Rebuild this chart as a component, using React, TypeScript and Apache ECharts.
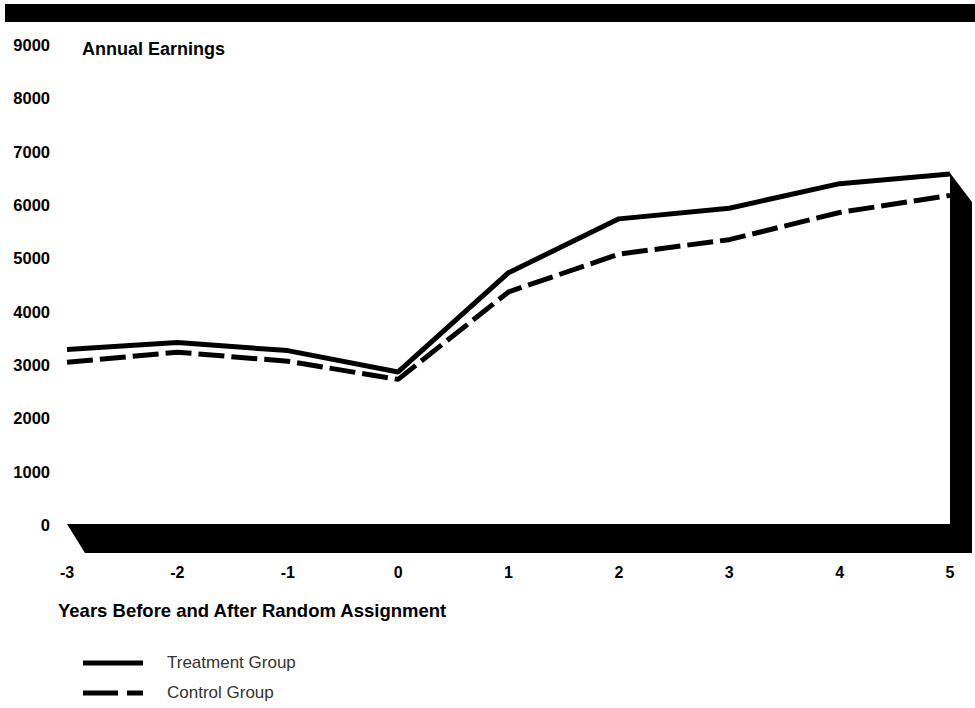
import React, { useEffect, useRef } from "react";
import * as echarts from "echarts";

const years = ["-3", "-2", "-1", "0", "1", "2", "3", "4", "5"];
const treatment = [3290, 3420, 3270, 2870, 4730, 5740, 5940, 6400, 6580];
const control = [3050, 3240, 3070, 2730, 4370, 5080, 5350, 5860, 6180];
const yTicks = [0, 1000, 2000, 3000, 4000, 5000, 6000, 7000, 8000, 9000];

const FONT = "'Liberation Sans', Arial, Helvetica, sans-serif";

export default function App() {
  const ref = useRef<HTMLDivElement>(null);
  useEffect(() => {
    if (!ref.current) return;
    const chart = echarts.init(ref.current, undefined, { renderer: "svg" });
    chart.setOption({
      animation: false,
      backgroundColor: "#fff",
      grid: { left: 67, right: 25, top: 45, height: 480 },
      xAxis: {
        type: "category",
        data: years,
        boundaryGap: false,
        axisLine: { show: false },
        axisTick: { show: false },
        axisLabel: {
          margin: 39,
          color: "#000",
          fontWeight: "bold",
          fontSize: 16,
          fontFamily: FONT,
        },
      },
      yAxis: {
        type: "value",
        min: yTicks[0],
        max: yTicks[yTicks.length - 1],
        interval: 1000,
        axisLine: { show: false },
        axisTick: { show: false },
        splitLine: { show: false },
        axisLabel: {
          margin: 17,
          color: "#000",
          fontWeight: "bold",
          fontSize: 16.5,
          fontFamily: FONT,
          formatter: (v: number) => String(v),
        },
      },
      title: {
        text: "Annual Earnings",
        left: 77,
        top: 35,
        textStyle: { fontSize: 18, fontWeight: "bold", color: "#000", fontFamily: FONT },
      },
      graphic: [
        { type: "rect", z: 1, shape: { x: 5, y: 4, width: 975, height: 18 }, style: { fill: "#000" } },
        {
          type: "polygon",
          z: 1,
          shape: { points: [[67, 524], [950, 524], [950, 173], [972, 202], [972, 553], [85, 553]] },
          style: { fill: "#000" },
        },
        {
          type: "text",
          left: 58,
          top: 601,
          style: { text: "Years Before and After Random Assignment", font: `bold 18.5px ${FONT}`, fill: "#000" },
        },
        { type: "rect", shape: { x: 83, y: 660.5, width: 60, height: 5 }, style: { fill: "#000" } },
        { type: "rect", shape: { x: 83, y: 690.5, width: 35, height: 5 }, style: { fill: "#000" } },
        { type: "rect", shape: { x: 127, y: 690.5, width: 16, height: 5 }, style: { fill: "#000" } },
        {
          type: "text",
          left: 167,
          top: 654,
          style: { text: "Treatment Group", font: `17px ${FONT}`, fill: "#333" },
        },
        {
          type: "text",
          left: 167,
          top: 684,
          style: { text: "Control Group", font: `17px ${FONT}`, fill: "#333" },
        },
      ],
      series: [
        {
          name: "Treatment Group",
          type: "line",
          data: treatment,
          symbol: "none",
          z: 3,
          lineStyle: { color: "#000", width: 5, type: "solid" },
        },
        {
          name: "Control Group",
          type: "line",
          data: control,
          symbol: "none",
          z: 3,
          lineStyle: { color: "#000", width: 5, type: [26, 7] },
        },
      ],
    });
    return () => chart.dispose();
  }, []);
  return <div ref={ref} style={{ position: "fixed", left: 0, top: 0, width: 975, height: 708 }} />;
}
